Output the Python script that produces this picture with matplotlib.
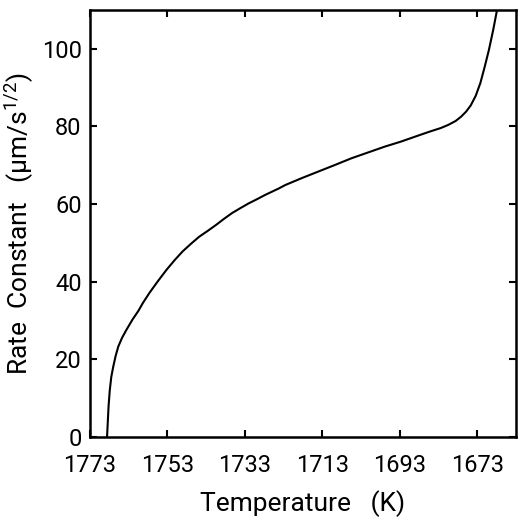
import matplotlib
matplotlib.use("Agg")
import matplotlib.pyplot as plt

temperature = [1768.6, 1768.4, 1768.2, 1767.9, 1767.5, 1767.0, 1766.4, 1765.7, 1764.7,
               1763.6, 1762.0, 1760.5, 1759.3, 1757.6, 1755.5, 1753.3, 1751.2, 1749.1,
               1746.9, 1744.8, 1742.6, 1740.5, 1738.4, 1736.3, 1734.1, 1732.0, 1729.8,
               1727.7, 1724.3, 1722.6, 1718.3, 1714.0, 1709.7, 1705.5, 1701.2, 1696.9,
               1692.7, 1688.4, 1685.5, 1682.4, 1680.5, 1678.6, 1677.2, 1675.9, 1674.7,
               1673.4, 1672.2, 1671.1, 1670.0, 1668.9, 1667.9]
rate_constant = [0, 4, 8, 12, 15.5, 18.1, 20.8, 23.3, 25.6,
                 27.6, 30.3, 32.5, 34.6, 37.2, 40.1, 43.0, 45.5, 47.8,
                 49.8, 51.6, 53.1, 54.6, 56.2, 57.7, 59.0, 60.2, 61.3,
                 62.4, 64.0, 64.9, 66.7, 68.4, 70.1, 71.8, 73.3, 74.8,
                 76.1, 77.6, 78.6, 79.6, 80.4, 81.4, 82.5, 83.8, 85.4,
                 87.9, 91.2, 95.3, 99.7, 104.8, 110]
x_ticks = [1773, 1753, 1733, 1713, 1693, 1673]
y_ticks = [0, 20, 40, 60, 80, 100]

plt.rcParams['font.family'] = ['Roboto', 'DejaVu Sans']
plt.rcParams['mathtext.fontset'] = 'custom'
plt.rcParams['mathtext.rm'] = 'Roboto'

fig = plt.figure(figsize=(5.18, 5.2), dpi=100)
ax = fig.add_axes([90/518, 83/520, 426/518, 427/520])
ax.plot(temperature, rate_constant, color='black', lw=1.5)
ax.set_xlim(1773, 1663)
ax.set_ylim(0, 110)
ax.set_xticks(x_ticks)
ax.set_yticks(y_ticks)
ax.tick_params(direction='in', length=5, width=1.5, top=True, right=True,
               labelsize=17)
ax.tick_params(axis='x', pad=12)
ax.tick_params(axis='y', pad=6)
for s in ax.spines.values():
    s.set_linewidth(1.8)
ax.set_xlabel('Temperature   (K)', fontsize=19, labelpad=10)
ax.set_ylabel('Rate  Constant   (μm/s$^{\\mathrm{1/2}}$)', fontsize=19, labelpad=4)
fig.savefig('out.png', dpi=100)
